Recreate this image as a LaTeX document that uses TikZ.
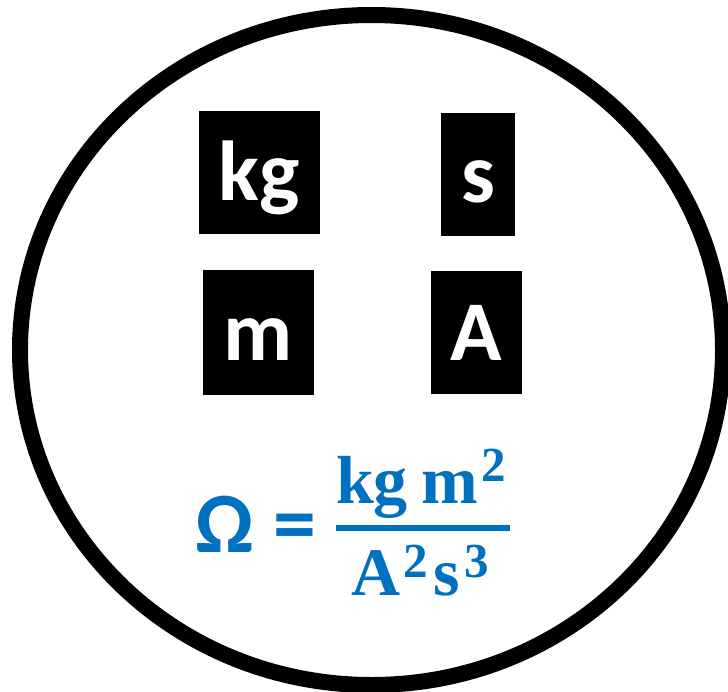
\documentclass[tikz,border=0pt]{standalone}
\usepackage{fontspec}
\usepackage{xcolor}
\newfontfamily\boxfont{Carlito}
\newfontfamily\fracfont{Liberation Serif}
\definecolor{ohmblue}{RGB}{0,112,192}
\newcommand{\supnum}[2]{\raisebox{#1}{\fontsize{49}{49}\selectfont #2}}

\begin{document}
\begin{tikzpicture}[
    x=1pt, y=-1pt,
    unitbox/.style={fill=black, text=white, font=\boxfont\bfseries\fontsize{85}{90}\selectfont,
        text height=56pt, text depth=0pt, inner sep=0pt},
    formula/.style={text=ohmblue, inner sep=0pt, anchor=base}
]

% Canvas
\useasboundingbox (0,0) rectangle (728,691);

% Outer ring
\draw[black, line width=16pt] (371.5,350) ellipse [x radius=351.5pt, y radius=335pt];

% Unit Boxes
\node[unitbox, minimum width=121pt, minimum height=123pt] (KG) at (259.5,172.5) {kg};
\node[unitbox, minimum width=74pt, minimum height=123pt] (S) at (478,174.5) {s};
\node[unitbox, minimum width=111pt, minimum height=125pt] (M) at (258.5,332.5) {m};
\node[unitbox, minimum width=91pt, minimum height=123pt] (A) at (476.5,332.5) {A};

% Ohm formula
\node[formula, font=\boxfont\bfseries\fontsize{86}{90}\selectfont] (OMEGA) at (225,552) {Ω};
\node[formula, font=\boxfont\bfseries\fontsize{86}{90}\selectfont] (EQ) at (295,552) {=};

% Fraction
\node[formula, font=\fracfont\bfseries\fontsize{68}{70}\selectfont] (NUM) at (421,503)
    {kg\hspace{14pt}m\hspace{3pt}\supnum{22pt}{2}};
\node[fill=ohmblue, minimum width=174pt, minimum height=6pt, inner sep=0pt] (BAR) at (423,528) {};
\node[formula, font=\fracfont\bfseries\fontsize{68}{70}\selectfont] (DEN) at (420,595)
    {A\hspace{3pt}\supnum{18pt}{2}\hspace{6pt}s\hspace{4pt}\supnum{18pt}{3}};

\end{tikzpicture}
\end{document}
